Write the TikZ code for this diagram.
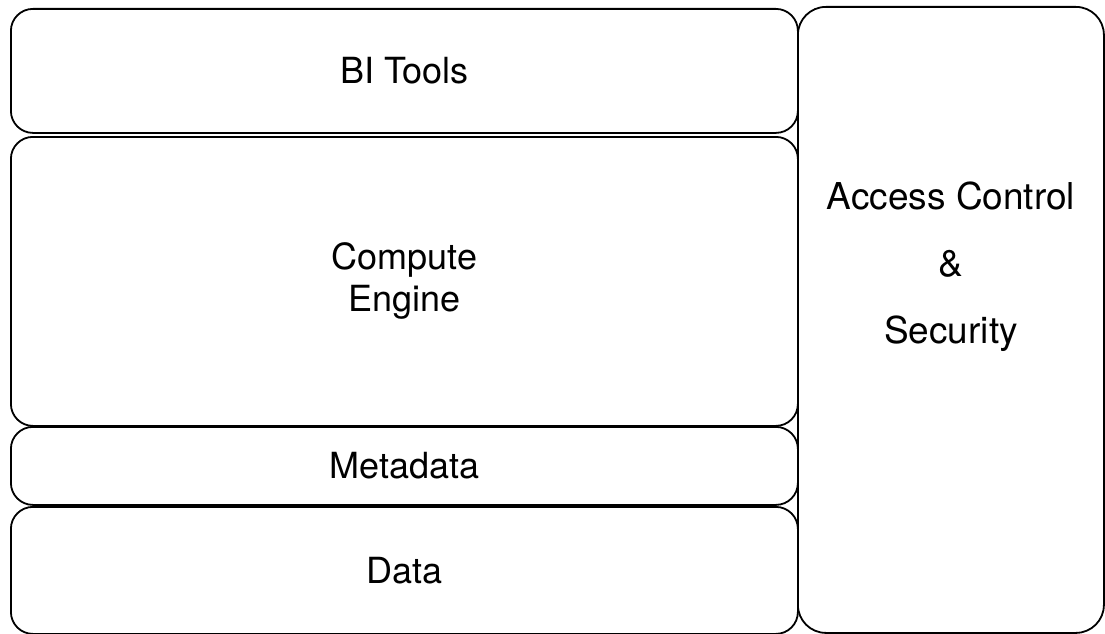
\documentclass[tikz,border=0pt]{standalone}
\usepackage{fontspec}
\setmainfont{TeX Gyre Heros}
\tikzset{layer/.style={draw, line width=1.8pt, rounded corners=22pt, anchor=north west, inner sep=0pt, font=\fontsize{36}{42}\selectfont, align=center}}

\begin{document}
\begin{tikzpicture}[x=1pt, y=-1pt]
\useasboundingbox (0,0) rectangle (1105,634);
\node[layer, minimum width=787pt, minimum height=124pt] (bi) at (10,8) {BI Tools};
\node[layer, minimum width=787pt, minimum height=289pt] (compute) at (10,136) {Compute\\Engine};
\node[layer, minimum width=787pt, minimum height=78pt] (meta) at (10,426) {Metadata};
\node[layer, minimum width=787pt, minimum height=127pt] (data) at (10,506) {Data};
\node[layer, minimum width=306pt, minimum height=626pt, rounded corners=28pt] (access) at (797,6) {};
\node[font=\fontsize{37}{67}\selectfont, align=center] (accesstext) at (951,267) {Access Control\\\&\\Security};
\end{tikzpicture}
\end{document}
